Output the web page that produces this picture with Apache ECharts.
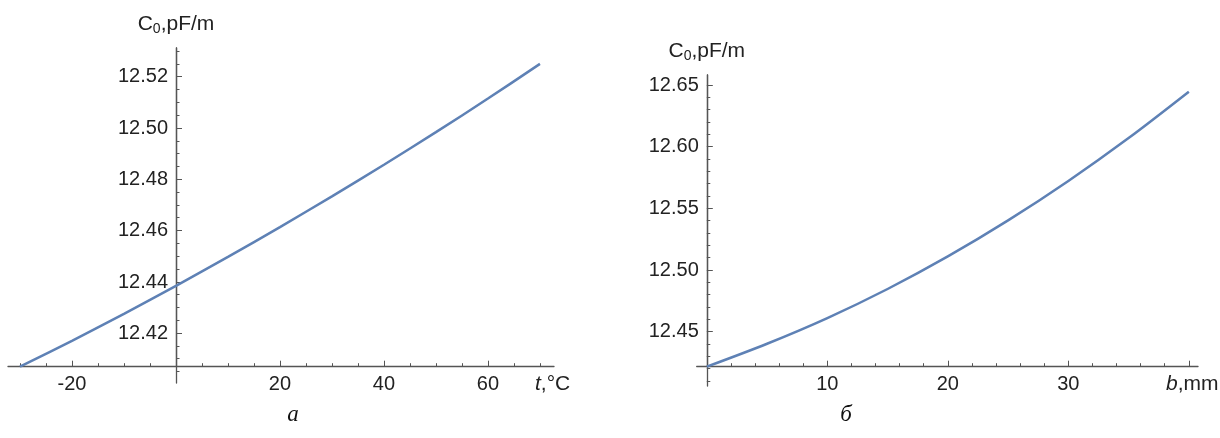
<!DOCTYPE html>
<html>
<head>
<meta charset="utf-8">
<script src="https://cdn.jsdelivr.net/npm/echarts@6/dist/echarts.min.js"></script>
<style>
  html, body { margin: 0; padding: 0; background: #fff; }
  #chart { width: 1220px; height: 438px; }
</style>
</head>
<body>
<div id="chart"></div>
<script>
// (a) capacitance vs temperature
const tempC = [-30, -20, -10, 0, 10, 20, 30, 40, 50, 60, 70];
const capT = [12.407, 12.4171, 12.4276, 12.4385, 12.4498, 12.4614, 12.4734, 12.4857, 12.4984, 12.5115, 12.525];
// (б) capacitance vs width b
const widthMm = [0, 5, 10, 15, 20, 25, 30, 35, 40];
const capB = [12.4216, 12.4402, 12.461, 12.4846, 12.511, 12.5402, 12.5722, 12.607, 12.6446];

// tick values
const tMajor = [-20, 20, 40, 60];
const tMinor = [-30, -25, -15, -10, -5, 5, 10, 15, 25, 30, 35, 45, 50, 55, 65, 70];
const cTMajor = [12.42, 12.44, 12.46, 12.48, 12.50, 12.52];
const cTMinor = [12.405, 12.41, 12.415, 12.425, 12.43, 12.435, 12.445, 12.45, 12.455, 12.465, 12.47, 12.475,
  12.485, 12.49, 12.495, 12.505, 12.51, 12.515, 12.525, 12.53];
const bMajor = [10, 20, 30, 40];
const bLabels = [10, 20, 30];
const bMinor = [2, 4, 6, 8, 12, 14, 16, 18, 22, 24, 26, 28, 32, 34, 36, 38];
const cBMajor = [12.45, 12.50, 12.55, 12.60, 12.65];
const cBMinor = [12.41, 12.42, 12.43, 12.44, 12.46, 12.47, 12.48, 12.49, 12.51, 12.52, 12.53, 12.54,
  12.56, 12.57, 12.58, 12.59, 12.61, 12.62, 12.63, 12.64];

const axisColor = '#555',
  font = 'Liberation Sans',
  lineColor = '#5E81B5',
  myChart = echarts.init(document.getElementById('chart'));

const nameRich = {
  n: { fontFamily: font, fontSize: 21, color: '#222' },
  sub: { fontFamily: font, fontSize: 14, color: '#222', padding: [9, 0, 0, 0] },
  i: { fontFamily: font, fontSize: 21, color: '#222', fontStyle: 'italic' }
};

const majorX = (grid, min, max, ticks, labels, name, gap) => ({
  type: 'value', gridIndex: grid, min: min, max: max, position: 'bottom',
  axisLine: { onZero: false, lineStyle: { color: axisColor, width: 1.3 } },
  axisTick: { inside: true, length: 6, customValues: ticks, lineStyle: { color: axisColor } },
  axisLabel: { customValues: labels, margin: 8, fontFamily: font, fontSize: 20, color: '#222' },
  splitLine: { show: false },
  name: name, nameLocation: 'end', nameGap: gap,
  nameTextStyle: { verticalAlign: 'top', padding: [7, 0, 0, 0], rich: nameRich }
});
const minorX = (grid, min, max, ticks) => ({
  type: 'value', gridIndex: grid, min: min, max: max, position: 'bottom',
  axisLine: { show: false, onZero: false },
  axisTick: { inside: true, length: 3.5, customValues: ticks, lineStyle: { color: axisColor } },
  axisLabel: { show: false }, splitLine: { show: false }
});
const hiddenX = (grid) => ({ type: 'value', gridIndex: grid, min: 0, max: 1, show: false });
const hiddenY = (grid, min, max) => ({ type: 'value', gridIndex: grid, min: min, max: max, show: false });

// y axes sit on narrow grids whose left edge is at x = 0 of the plot
const majorY = (grid, min, max, ticks) => ({
  type: 'value', gridIndex: grid, min: min, max: max, position: 'left',
  axisLine: { onZero: false, lineStyle: { color: axisColor, width: 1.3 } },
  axisTick: { inside: true, length: 6, customValues: ticks, lineStyle: { color: axisColor } },
  axisLabel: { customValues: ticks, margin: 8, fontFamily: font, fontSize: 20, color: '#222',
    formatter: v => v.toFixed(2) },
  splitLine: { show: false },
  name: '{n|C}{sub|0}{n|,pF/m}', nameLocation: 'end', nameGap: 12,
  nameTextStyle: { rich: nameRich }
});
const minorY = (grid, min, max, ticks) => ({
  type: 'value', gridIndex: grid, min: min, max: max, position: 'left',
  axisLine: { onZero: false, lineStyle: { color: axisColor, width: 1.3 } },
  axisTick: { inside: true, length: 3.5, customValues: ticks, lineStyle: { color: axisColor } },
  axisLabel: { show: false }, splitLine: { show: false }
});

const gridBase = { outerBoundsMode: 'none', containLabel: false };

const option = {
  animation: false,
  grid: [
    Object.assign({ left: 8, top: 48, width: 546, height: 318.7 }, gridBase),      // (a) plot
    Object.assign({ left: 176, top: 48, width: 10, height: 318.7 }, gridBase),     // (a) y spine
    Object.assign({ left: 176, top: 48, width: 10, height: 335 }, gridBase),       // (a) y spine below x axis
    Object.assign({ left: 696.7, top: 75, width: 501.3, height: 291.7 }, gridBase), // (б) plot
    Object.assign({ left: 706.8, top: 75, width: 10, height: 291.7 }, gridBase),   // (б) y spine
    Object.assign({ left: 706.8, top: 75, width: 10, height: 311 }, gridBase)      // (б) y spine below x axis
  ],
  xAxis: [
    majorX(0, -32.3, 72.7, tMajor, tMajor, '{i|t}{n|,°C}', -19),
    minorX(0, -32.3, 72.7, tMinor),
    hiddenX(1),
    hiddenX(2),
    majorX(3, -0.84, 40.76, bMajor, bLabels, '{i|b}{n|,mm}', -32),
    minorX(3, -0.84, 40.76, bMinor),
    hiddenX(4),
    hiddenX(5)
  ],
  yAxis: [
    hiddenY(0, 12.407, 12.5312),
    majorY(1, 12.407, 12.5312, cTMajor),
    minorY(2, 12.4005, 12.5312, cTMinor),
    hiddenY(3, 12.4216, 12.6581),
    majorY(4, 12.4216, 12.6581, cBMajor),
    minorY(5, 12.4059, 12.6581, cBMinor)
  ],
  series: [
    {
      type: 'line', xAxisIndex: 0, yAxisIndex: 0, smooth: 0.3, showSymbol: false, clip: false,
      lineStyle: { color: lineColor, width: 2.5 },
      data: tempC.map((t, i) => [t, capT[i]])
    },
    {
      type: 'line', xAxisIndex: 4, yAxisIndex: 3, smooth: 0.3, showSymbol: false, clip: false,
      lineStyle: { color: lineColor, width: 2.5 },
      data: widthMm.map((b, i) => [b, capB[i]])
    }
  ],
  graphic: [
    { type: 'text', x: 293, y: 415, style: { text: 'a', fontFamily: 'Liberation Serif', fontStyle: 'italic',
      fontSize: 23, fill: '#111', textAlign: 'center', textVerticalAlign: 'middle' } },
    { type: 'text', x: 846, y: 415, style: { text: 'б', fontFamily: 'Liberation Serif', fontStyle: 'italic',
      fontSize: 23, fill: '#111', textAlign: 'center', textVerticalAlign: 'middle' } }
  ]
};

myChart.setOption(option);
</script>
</body>
</html>
